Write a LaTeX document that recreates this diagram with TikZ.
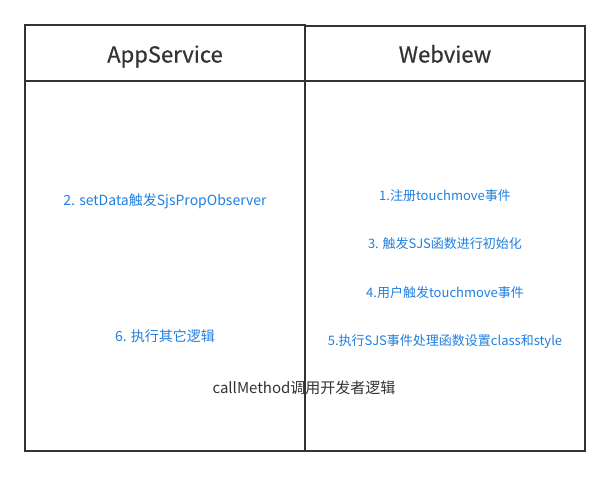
\documentclass[tikz,border=0pt]{standalone}
\usepackage{fontspec}
\setmainfont{Noto Sans CJK SC}
\newfontfamily\headfont{Noto Sans CJK SC}[FakeBold=0.6]
\usepackage{tikz}
\usetikzlibrary{positioning}
\usepackage{xcolor}
\definecolor{linegray}{RGB}{51,51,51}
\definecolor{stepblue}{RGB}{32,128,224}

\begin{document}
\begin{tikzpicture}[x=1pt,y=-1pt,
  header/.style={anchor=base,font=\headfont\fontsize{22}{26}\selectfont,text=linegray},
  leftnote/.style={anchor=base,font=\fontsize{14}{17}\selectfont,text=stepblue},
  rightnote/.style={anchor=base,font=\fontsize{13}{16}\selectfont,text=stepblue},
  callnote/.style={anchor=base,font=\fontsize{15}{18}\selectfont,text=linegray}]
\useasboundingbox[fill=white] (0,0) rectangle (610,477);
% two columns
\draw[linegray,line width=2pt] (25,25) rectangle (305,451);
\draw[linegray,line width=2pt] (305,26) rectangle (585,451);
\draw[linegray,line width=2pt] (25,81) -- (585,81);
\node[header] (app) at (165,62.5) {AppService};
\node[header] (web) at (445,62.5) {Webview};
% steps
\node[leftnote] (s2) at (165,205.5) {2. setData触发SjsPropObserver};
\node[leftnote] (s6) at (165,341.5) {6. 执行其它逻辑};
\node[rightnote] (s1) at (445,200.5) {1.注册touchmove事件};
\node[rightnote] (s3) at (445,248.3) {3. 触发SJS函数进行初始化};
\node[rightnote] (s4) at (445,297.3) {4.用户触发touchmove事件};
\node[rightnote] (s5) at (445,345.7) {5.执行SJS事件处理函数设置class和style};
\node[callnote] (call) at (304,393.3) {callMethod调用开发者逻辑};
\end{tikzpicture}
\end{document}
